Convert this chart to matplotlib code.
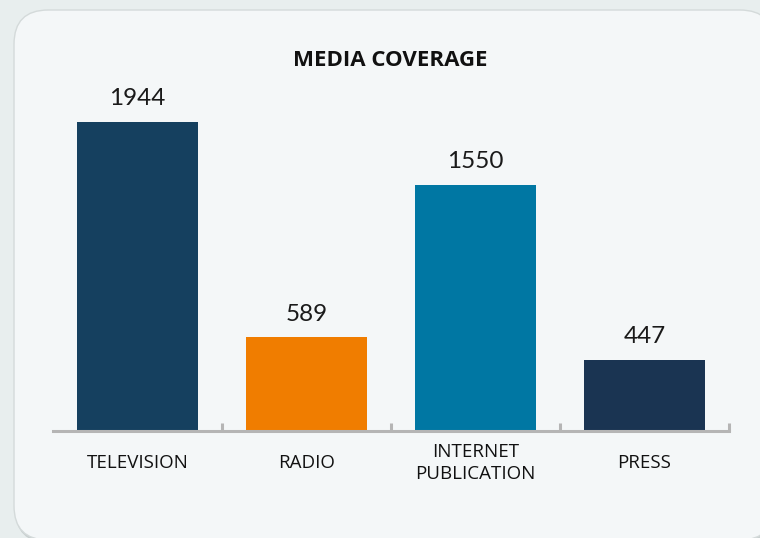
import matplotlib.pyplot as plt
from matplotlib.patches import FancyBboxPatch

categories = ['TELEVISION', 'RADIO', 'INTERNET\nPUBLICATION', 'PRESS']
counts = [1944, 589, 1550, 447]
colors = ['#15405f', '#f07d00', '#0077a3', '#1a3452']

W, H = 760, 538
fig = plt.figure(figsize=(W / 100, H / 100), dpi=100)
fig.patch.set_facecolor('#e8eeee')

# card background with soft shadow
shadow = FancyBboxPatch((15 / W, (H - 543) / H), 760 / W, 532 / H,
                        boxstyle='round,pad=0,rounding_size=0.045',
                        transform=fig.transFigure, facecolor='#c9d0d0',
                        edgecolor='none', mutation_aspect=W / H, zorder=-2)
card = FancyBboxPatch((14 / W, (H - 540) / H), 760 / W, 530 / H,
                      boxstyle='round,pad=0,rounding_size=0.045',
                      transform=fig.transFigure, facecolor='#f4f7f8',
                      edgecolor='#d4dada', linewidth=1,
                      mutation_aspect=W / H, zorder=-1)
fig.patches.extend([shadow, card])

ymax = 2200
px_per_unit = 309 / 1944
ax_h = ymax * px_per_unit
ax = fig.add_axes([53 / W, (H - 431) / H, 676 / W, ax_h / H])
ax.set_facecolor('none')
ax.set_zorder(2)

bars = ax.bar(range(len(categories)), counts, width=0.72, color=colors, zorder=2)
ax.bar_label(bars, padding=9, fontsize=17.5, family='Lato', color='#1a1a1a')

ax.set_xlim(-0.5, 3.5)
ax.set_ylim(0, ymax)
for s in ['top', 'right', 'left']:
    ax.spines[s].set_visible(False)
ax.spines['bottom'].set_color('#b5b5b5')
ax.spines['bottom'].set_linewidth(2.2)
ax.set_yticks([])

ax.set_xticks(range(len(categories)), categories, fontsize=13.5, family='Open Sans',
              color='#111111', linespacing=1.3)
for lbl in ax.get_xticklabels():
    lbl.set_va('center')
ax.tick_params(axis='x', which='major', length=0, pad=23)
ax.set_xticks([0.5, 1.5, 2.5, 3.5], minor=True)
ax.tick_params(axis='x', which='minor', direction='in', length=6, width=2.2,
               color='#b5b5b5')

fig.text(390 / W, 1 - 61 / H, 'MEDIA COVERAGE', ha='center', va='center',
         fontsize=16, fontweight='bold', family='Open Sans', color='#111111')

fig.savefig('out.png', dpi=100, facecolor=fig.get_facecolor())
